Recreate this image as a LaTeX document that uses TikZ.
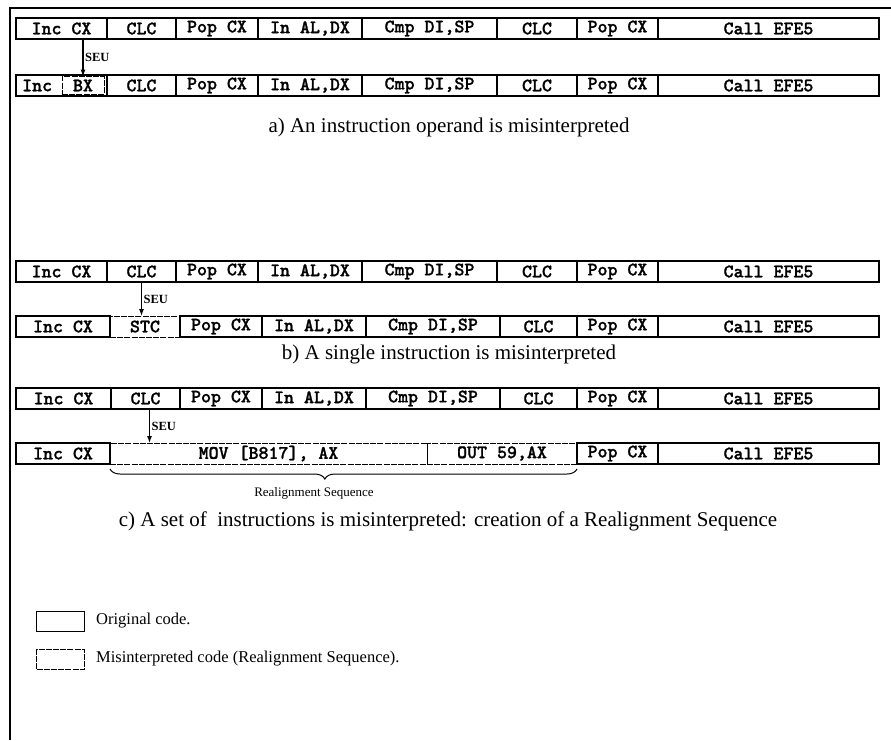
\documentclass[tikz,border=0pt]{standalone}
\usepackage{fontspec}
\setmainfont{Liberation Serif}
\newfontfamily\codefont[Extension=.otf, FakeBold=1.2]{lmmonolt10-bold}
\usetikzlibrary{arrows.meta,decorations.pathreplacing,calc}
\tikzset{
  codefnt/.style={font=\codefont\fontsize{19}{19}\selectfont},
  cell/.style={draw, line width=1.1pt, minimum height=21pt, inner sep=0pt, outer sep=0pt, anchor=west, codefnt},
  mis/.style={cell, dash pattern=on 6pt off 1.2pt, line width=0.9pt},
  seuarrow/.style={line width=1.1pt, -{Latex[length=7pt,width=5pt]}},
  seulabel/.style={anchor=west, font=\bfseries\fontsize{12.5}{12.5}\selectfont, inner sep=2pt},
  caption/.style={font=\fontsize{21}{21}\selectfont, inner sep=0pt},
  legtext/.style={anchor=west, font=\fontsize{16.5}{16.5}\selectfont, inner sep=0pt}
}
\newcommand\mycell[6]{\node[#6, minimum width={#3pt-#2pt}] (#1) at (#2,#4) {#5};}
\begin{document}
\begin{tikzpicture}[x=1pt,y=-1pt]
\useasboundingbox (0,0) rectangle (891,740);
% frame
\draw[line width=2pt] (10,740) -- (10,8) -- (891,8);
% ---------- a)
\mycell{a1inc}{16}{107}{28.5}{Inc CX}{cell}
\mycell{a1clc}{107}{176}{28.5}{CLC}{cell}
\mycell{a1pop}{176}{258}{28.5}{Pop CX}{cell}
\mycell{a1in}{258}{362}{28.5}{In AL,DX}{cell}
\mycell{a1cmp}{362}{497}{28.5}{Cmp DI,SP}{cell}
\mycell{a1clcb}{497}{577}{28.5}{CLC}{cell}
\mycell{a1popb}{577}{658}{28.5}{Pop CX}{cell}
\mycell{a1call}{658}{879}{28.5}{Call EFE5}{cell}
\mycell{a2inc}{16}{107}{85.5}{}{cell}
\node[anchor=west, inner sep=0pt, codefnt] (a2inctxt) at (22,85.5) {Inc};
\node[mis, minimum width=42pt, minimum height=18pt] (a2bx) at (62,85.5) {BX};
\mycell{a2clc}{107}{176}{85.5}{CLC}{cell}
\mycell{a2pop}{176}{258}{85.5}{Pop CX}{cell}
\mycell{a2in}{258}{362}{85.5}{In AL,DX}{cell}
\mycell{a2cmp}{362}{497}{85.5}{Cmp DI,SP}{cell}
\mycell{a2clcb}{497}{577}{85.5}{CLC}{cell}
\mycell{a2popb}{577}{658}{85.5}{Pop CX}{cell}
\mycell{a2call}{658}{879}{85.5}{Call EFE5}{cell}
\draw[seuarrow] (a2bx.north |- a1inc.south) -- (a2bx.north);
\node[seulabel] (seua) at ($(a2bx.north |- a1inc.south)!0.5!(a2bx.north)$) {SEU};
\node[caption] (capa) at (449,127) {a) An instruction operand is misinterpreted};
% ---------- b)
\mycell{b1inc}{16}{107}{271.5}{Inc CX}{cell}
\mycell{b1clc}{107}{176}{271.5}{CLC}{cell}
\mycell{b1pop}{176}{258}{271.5}{Pop CX}{cell}
\mycell{b1in}{258}{362}{271.5}{In AL,DX}{cell}
\mycell{b1cmp}{362}{497}{271.5}{Cmp DI,SP}{cell}
\mycell{b1clcb}{497}{577}{271.5}{CLC}{cell}
\mycell{b1popb}{577}{658}{271.5}{Pop CX}{cell}
\mycell{b1call}{658}{879}{271.5}{Call EFE5}{cell}
\mycell{b2inc}{16}{110}{326.5}{Inc CX}{cell}
\mycell{b2stc}{110}{180}{326.5}{STC}{mis}
\mycell{b2pop}{180}{262}{326.5}{Pop CX}{cell}
\mycell{b2in}{262}{366}{326.5}{In AL,DX}{cell}
\mycell{b2cmp}{366}{500}{326.5}{Cmp DI,SP}{cell}
\mycell{b2clcb}{500}{577}{326.5}{CLC}{cell}
\mycell{b2popb}{577}{658}{326.5}{Pop CX}{cell}
\mycell{b2call}{658}{879}{326.5}{Call EFE5}{cell}
\draw[seuarrow] (b1clc.south) -- (b1clc.south |- b2stc.north);
\node[seulabel] (seub) at ($(b1clc.south)!0.5!(b1clc.south |- b2stc.north)$) {SEU};
\node[caption] (capb) at (449,354) {b) A single instruction is misinterpreted};
% ---------- c)
\mycell{c1inc}{16}{111}{398.5}{Inc CX}{cell}
\mycell{c1clc}{111}{180}{398.5}{CLC}{cell}
\mycell{c1pop}{180}{262}{398.5}{Pop CX}{cell}
\mycell{c1in}{262}{366}{398.5}{In AL,DX}{cell}
\mycell{c1cmp}{366}{500}{398.5}{Cmp DI,SP}{cell}
\mycell{c1clcb}{500}{577}{398.5}{CLC}{cell}
\mycell{c1popb}{577}{658}{398.5}{Pop CX}{cell}
\mycell{c1call}{658}{879}{398.5}{Call EFE5}{cell}
\mycell{c2inc}{16}{110}{453.5}{Inc CX}{cell}
\mycell{c2mov}{110}{427}{453.5}{MOV [B817], AX}{mis}
\mycell{c2out}{427}{577}{453.5}{OUT 59,AX}{mis}
\mycell{c2pop}{577}{658}{453.5}{Pop CX}{cell}
\mycell{c2call}{658}{879}{453.5}{Call EFE5}{cell}
\coordinate (c1arr) at ([xshift=4pt]c1clc.south);
\draw[seuarrow] (c1arr) -- (c1arr |- c2mov.north);
\node[seulabel] (seuc) at ($(c1arr)!0.5!(c1arr |- c2mov.north)$) {SEU};
\draw[line width=1pt, decorate, decoration={brace, mirror, amplitude=10pt, aspect=0.46}]
  ([yshift=-5pt]c2mov.south west) -- ([yshift=-5pt]c2out.south east);
\node[font=\fontsize{13}{13}\selectfont, inner sep=0pt] (rs) at (314,493) {Realignment Sequence};
\node[caption] (capc) at (448,521) {c) A set of\ \ instructions is misinterpreted: creation of a Realignment Sequence};
% ---------- legend
\node[draw, line width=1.1pt, minimum width=48pt, minimum height=20pt, inner sep=0pt, anchor=north west] (leg1) at (36,611) {};
\node[legtext] (leg1t) at (96,621) {Original code.};
\node[draw, dash pattern=on 6pt off 1.2pt, line width=1pt, minimum width=48pt, minimum height=20pt, inner sep=0pt, anchor=north west] (leg2) at (36,649) {};
\node[legtext] (leg2t) at (96,659) {Misinterpreted code (Realignment Sequence).};
\end{tikzpicture}
\end{document}
